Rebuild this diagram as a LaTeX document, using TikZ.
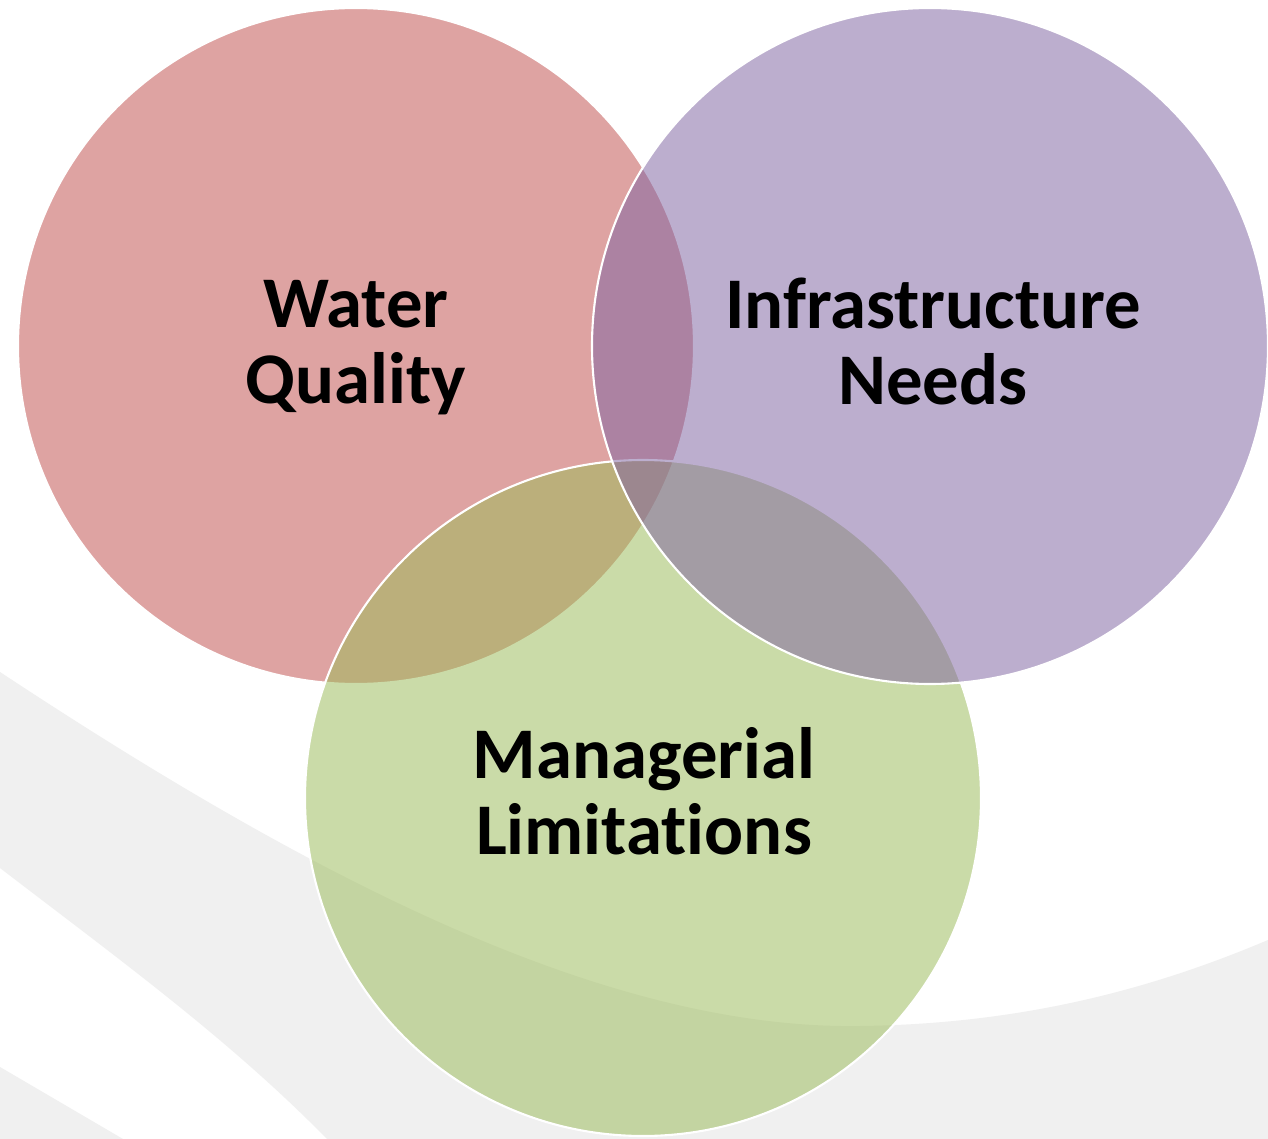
\documentclass[tikz,border=0pt]{standalone}
\usepackage{fontspec}
\setmainfont{Carlito}[Ligatures=NoCommon]
\definecolor{vennred}{HTML}{C0504D}
\definecolor{vennpurple}{HTML}{8064A2}
\definecolor{venngreen}{HTML}{9BBB59}
\definecolor{swoosh}{HTML}{F0F0F0}
\begin{document}
\begin{tikzpicture}[x=0.1mm, y=0.1mm,
		venn/.style={draw=white, line width=0.6pt, fill opacity=0.52},
		lbl/.style={align=center, font=\fontsize{20.7}{21.6}\selectfont\bfseries,
			execute at begin node=\strut, execute at end node=\strut}]
			\tikzstyle{every node}+=[inner sep=0pt]
			\useasboundingbox (0,0) rectangle (1268,-1139);
			\fill [white] (0,0) rectangle (1268,-1139);
			% background swooshes
			\fill [swoosh] (0,-672) .. controls (300,-870) and (600,-1030) .. (860,-1026) .. controls (1020,-1024) and (1150,-990) .. (1268,-940) -- (1268,-1139) -- (327,-1139) .. controls (230,-1040) and (120,-960) .. (0,-868) -- cycle;
			\fill [swoosh] (0,-1067) -- (123,-1139) -- (0,-1139) -- cycle;
			% circles
			\draw [venn, fill=vennred] (356,-346) circle (338);
			\draw [venn, fill=venngreen] (643,-798) circle (338);
			\draw [venn, fill=vennpurple] (930,-346) circle (338);
			% labels
			\draw (356,-353) node [lbl] (water) {Water\\Quality};
			\draw (933,-353) node [lbl] (infra) {Infrastructure\\Needs};
			\draw (644,-802) node [lbl] (manage) {Managerial\\Limitations};
		\end{tikzpicture}
\end{document}
